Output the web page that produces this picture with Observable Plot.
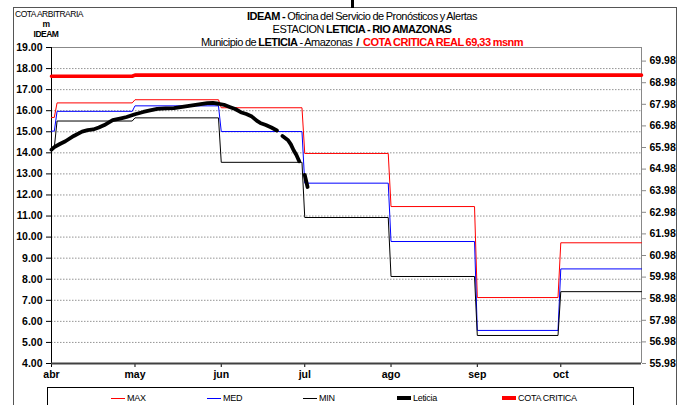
<!DOCTYPE html>
<html>
<head>
<meta charset="utf-8">
<script src="https://cdn.jsdelivr.net/npm/d3@7"></script>
<script src="https://cdn.jsdelivr.net/npm/@observablehq/plot@0.6"></script>
<style>
  body { margin: 0; background: #fff; }
  #chart { position: relative; width: 691px; height: 405px; overflow: hidden;
           font-family: "Liberation Sans", Arial, sans-serif; color: #000; }
  #chart svg { position: absolute; left: 0; top: 0; }
  .marco { position: absolute; left: 13px; top: 7px; width: 664px; height: 420px; border: 1px solid #555; box-sizing: border-box; }
  .barra { position: absolute; left: 351px; top: 0; width: 3px; height: 8px; background: #000; }
  .titulo { position: absolute; left: 162px; width: 400px; text-align: center; font-size: 11px; line-height: 12px; white-space: nowrap; letter-spacing: -0.5px; word-spacing: -0.5px; }
  .unidad { position: absolute; left: 15px; width: 62px; text-align: center; font-size: 8.5px; line-height: 10px; white-space: nowrap; letter-spacing: -0.5px; }
  .rojo { color: #ff0000; font-weight: bold; }
  b { font-weight: bold; }
  .leyenda { position: absolute; left: 47px; top: 387px; width: 587px; height: 40px; border: 1px solid #000; box-sizing: border-box; background: #fff; }
  .item { position: absolute; top: 5px; height: 10px; font-size: 9px; line-height: 10px; white-space: nowrap; letter-spacing: -0.3px; }
  .item span.muestra { position: absolute; left: 0; width: 14px; }
  .item span.nombre { position: absolute; left: 16px; }
</style>
</head>
<body>
<div id="chart">
  <div class="marco"></div>
  <div class="barra"></div>
  <div class="unidad" style="top:9px">COTA ARBITRARIA</div>
  <div class="unidad" style="top:19px"><b>m</b></div>
  <div class="unidad" style="top:29px"><b>IDEAM</b></div>
  <div class="titulo" style="top:10px"><b>IDEAM -</b> Oficina del Servicio de Pronósticos y Alertas</div>
  <div class="titulo" style="top:23px">ESTACION <b>LETICIA - RIO AMAZONAS</b></div>
  <div class="titulo" style="top:36px">Municipio de <b>LETICIA</b> - Amazonas <b>&nbsp;/&nbsp;</b> <span class="rojo">COTA CRITICA REAL 69,33 msnm</span></div>
</div>
<script>
// Niveles mensuales (cota arbitraria, m) de la estación Leticia - Río Amazonas
const meses = ["abr", "may", "jun", "jul", "ago", "sep", "oct"];
const maxMensual = [16.37, 16.52, 16.14, 13.97, 11.45, 7.13, 9.73];
const medMensual = [15.97, 16.23, 15.01, 12.56, 9.79, 5.57, 8.49];
const minMensual = [15.51, 15.66, 13.55, 10.93, 8.13, 5.33, 7.41];

// Primeros días de abril (antes del cambio de nivel)
const maxInicio = [15.68, 15.68];
const medInicio = [15.03, 15.03];
const minInicio = [14.25, 14.25];

// Cota crítica en msnm (eje derecho)
const cotaCriticaMsnm = [69.28, 69.33, 69.33, 69.33, 69.33, 69.33, 69.33];

// Nivel observado en Leticia (null = sin dato)
const leticiaFechas = ["04-01","04-02","04-04","04-06","04-09","04-12","04-14","04-16","04-18","04-20",
  "04-23","04-26","04-28","05-01","05-04","05-06","05-09","05-12","05-15","05-18","05-21","05-24",
  "05-27","05-29","05-31","06-02","06-04","06-06","06-08","06-10","06-12","06-14","06-15","06-17",
  "06-19","06-21","06-22","06-23","06-25","06-26","06-27","06-28","06-29","06-30","07-01","07-02"];
const leticiaNivel = [14.15, 14.27, 14.42, 14.55, 14.80, 15.01, 15.08, 15.11, 15.20, 15.32,
  15.55, 15.64, 15.70, 15.83, 15.94, 16.00, 16.09, 16.11, 16.12, 16.18, 16.24, 16.30,
  16.36, 16.37, 16.33, 16.28, 16.18, 16.08, 15.93, 15.84, 15.72, 15.50, 15.42, 15.32,
  15.20, 15.06, null, 14.80, 14.60, 14.40, 14.12, 13.90, 13.60, null, 12.95, 12.38];

// Marcas de los ejes
const ticksIzq = [4, 5, 6, 7, 8, 9, 10, 11, 12, 13, 14, 15, 16, 17, 18, 19];
const ticksDer = [55.98, 56.98, 57.98, 58.98, 59.98, 60.98, 61.98, 62.98, 63.98, 64.98, 65.98, 66.98, 67.98, 68.98, 69.98];

const anio = 2011;
const fecha = (m, d) => new Date(Date.UTC(anio, m, d));
const finMes = [30, 31, 30, 31, 31, 30, 30];

// Equivalencia entre la cota en msnm (eje derecho) y la cota arbitraria (eje izquierdo)
const escalaDer = 1.0253;
const aIzq = r => 4 + (r - 55.98) * escalaDer;
const aDer = l => 55.98 + (l - 4) / escalaDer;

function escalones(inicio, mensual) {
  const pts = inicio.map((v, i) => ({fecha: fecha(3, i + 1), valor: v}));
  mensual.forEach((v, i) => {
    const primer = i === 0 ? inicio.length + 1 : 1;
    pts.push({fecha: fecha(3 + i, primer), valor: v});
    pts.push({fecha: fecha(3 + i, finMes[i]), valor: v});
  });
  return pts;
}

const serieMax = escalones(maxInicio, maxMensual);
const serieMed = escalones(medInicio, medMensual);
const serieMin = escalones(minInicio, minMensual);
const serieCota = escalones([], cotaCriticaMsnm.map(aIzq));
const serieLeticia = leticiaFechas.map((f, i) => {
  const [m, d] = f.split("-").map(Number);
  return {fecha: fecha(m - 1, d), valor: leticiaNivel[i]};
});

const inicioMeses = meses.map((m, i) => fecha(3 + i, 1));
const dominioX = [fecha(3, 1), fecha(9, 30)];

const chart = Plot.plot({
  width: 691,
  height: 405,
  marginTop: 47,
  marginBottom: 42,
  marginLeft: 51,
  marginRight: 50,
  style: {fontFamily: "'Liberation Sans', Arial, sans-serif", fontSize: "10.5px", fontWeight: "bold", background: "transparent", overflow: "visible"},
  x: {type: "utc", domain: dominioX, label: null},
  y: {domain: [4, 19], label: null},
  marks: [
    Plot.gridY(ticksIzq.filter(t => t > 4 && t < 19), {stroke: "#888", strokeOpacity: 0.9, strokeDasharray: "1.5,1.5"}),
    Plot.ruleY([19], {stroke: "#888"}),
    Plot.ruleX([dominioX[1]], {stroke: "#888"}),
    Plot.axisY(ticksDer.map(aIzq), {anchor: "right", tickSize: 4, tickPadding: 4, stroke: "#888",
      tickFormat: d => aDer(d).toFixed(2)}),
    Plot.axisY(ticksIzq, {anchor: "left", tickSize: 5, tickPadding: 4, tickFormat: d => d.toFixed(2)}),
    Plot.axisX(inicioMeses, {tickSize: 4, tickPadding: 3, tickFormat: d => meses[d.getUTCMonth() - 3]}),
    Plot.ruleX([dominioX[0]], {stroke: "#000"}),
    Plot.ruleY([4], {stroke: "#404040", strokeWidth: 2}),
    Plot.line(serieMax, {x: "fecha", y: "valor", stroke: "#ff0000", strokeWidth: 1}),
    Plot.line(serieMed, {x: "fecha", y: "valor", stroke: "#0000ff", strokeWidth: 1}),
    Plot.line(serieMin, {x: "fecha", y: "valor", stroke: "#000", strokeWidth: 1}),
    Plot.line(serieLeticia, {x: "fecha", y: "valor", stroke: "#000", strokeWidth: 3.8, strokeLinejoin: "round", strokeLinecap: "round"}),
    Plot.line(serieCota, {x: "fecha", y: "valor", stroke: "#ff0000", strokeWidth: 3.6})
  ]
});

const contenedor = document.getElementById("chart");
contenedor.insertBefore(chart, contenedor.firstChild.nextSibling);

// Leyenda
const leyenda = document.createElement("div");
leyenda.className = "leyenda";
const items = [
  {nombre: "MAX", color: "#ff0000", grosor: 1, x: 63},
  {nombre: "MED", color: "#0000ff", grosor: 1, x: 159},
  {nombre: "MIN", color: "#000000", grosor: 1, x: 255},
  {nombre: "Leticia", color: "#000000", grosor: 4, x: 349},
  {nombre: "COTA CRITICA", color: "#ff0000", grosor: 4, x: 454}
];
items.forEach(it => {
  const el = document.createElement("div");
  el.className = "item";
  el.style.left = it.x + "px";
  const muestra = document.createElement("span");
  muestra.className = "muestra";
  muestra.style.top = (5 - it.grosor / 2) + "px";
  muestra.style.height = it.grosor + "px";
  muestra.style.background = it.color;
  const nombre = document.createElement("span");
  nombre.className = "nombre";
  nombre.textContent = it.nombre;
  el.appendChild(muestra);
  el.appendChild(nombre);
  leyenda.appendChild(el);
});
contenedor.appendChild(leyenda);
</script>
</body>
</html>
